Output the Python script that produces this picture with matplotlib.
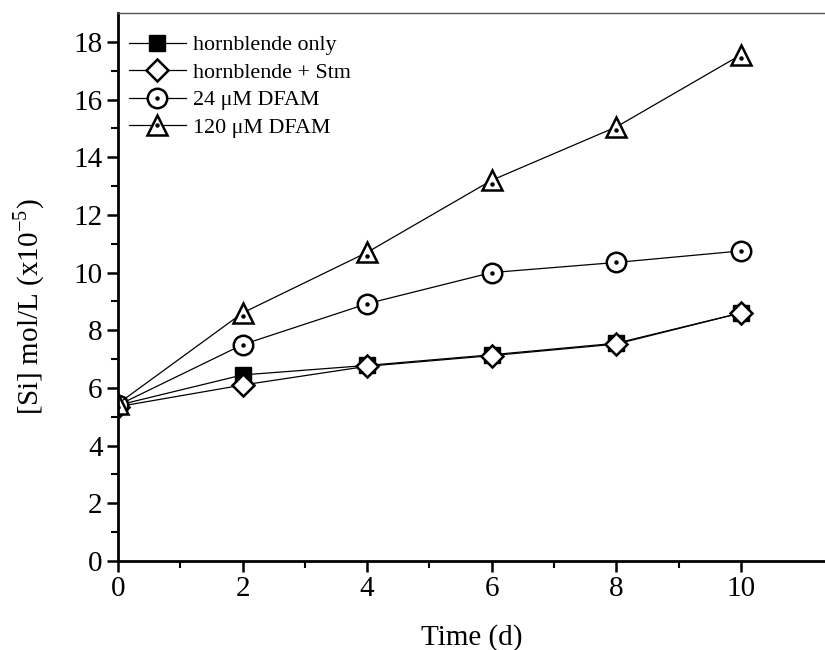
import numpy as np
import matplotlib.pyplot as plt
from matplotlib.legend_handler import HandlerTuple

plt.rcParams['font.family'] = ['Liberation Serif', 'DejaVu Serif']
plt.rcParams['mathtext.fontset'] = 'stix'

# data
t = np.array([0, 2, 4, 6, 8, 10])
hb_only = np.array([5.4, 6.45, 6.78, 7.15, 7.55, 8.6])
hb_stm = np.array([5.35, 6.1, 6.75, 7.12, 7.52, 8.6])
dfam24 = np.array([5.4, 7.5, 8.92, 10.0, 10.35, 10.75])
dfam120 = np.array([5.45, 8.6, 10.7, 13.2, 15.05, 17.55])
labels = ['hornblende only', 'hornblende + Stm', '24 \u03bcM DFAM', '120 \u03bcM DFAM']

fig = plt.figure(figsize=(8.25, 6.5), dpi=100)
ax = fig.add_axes([0.143, 0.137, 0.857, 0.843])

mew = 1.8
lw = 0.9
h1, = ax.plot(t, hb_only, '-', color='k', lw=lw, marker='s', ms=12,
              mfc='k', mec='k', mew=1)
h2, = ax.plot(t, hb_stm, '-', color='k', lw=lw, marker='D', ms=11,
              mfc='white', mec='k', mew=mew)
h3, = ax.plot(t, dfam24, '-', color='k', lw=lw, marker='o', ms=14,
              mfc='white', mec='k', mew=mew)
d3, = ax.plot(t, dfam24, ls='none', marker='o', ms=2.2, color='k')
h4, = ax.plot(t, dfam120, '-', color='k', lw=lw, marker='^', ms=15,
              mfc='white', mec='k', mew=mew)
d4, = ax.plot(t, dfam120 - 0.12, ls='none', marker='o', ms=2.2, color='k')

leg = ax.legend([h1, h2, (h3, d3), (h4, d4)], labels,
                handler_map={tuple: HandlerTuple(ndivide=1, pad=0)},
                loc='upper left', bbox_to_anchor=(0.0, 0.98),
                frameon=False, fontsize=15.8, handlelength=2.6,
                handletextpad=0.3, labelspacing=0.33, borderaxespad=0.1)

ax.set_xlim(0, 11.35)
ax.set_ylim(0, 19)
ax.set_xticks(np.arange(0, 11, 2))
ax.set_xticks(np.arange(0, 11, 1), minor=True)
ax.set_yticks(np.arange(0, 19, 2))
ax.set_yticks(np.arange(0, 19, 1), minor=True)

ax.tick_params(which='major', direction='out', length=8, width=1.8,
               labelsize=21, pad=3)
ax.tick_params(which='minor', direction='out', length=5, width=1.5)
ax.spines['left'].set_linewidth(2)
ax.spines['bottom'].set_linewidth(2)
ax.spines['top'].set_linewidth(1)
ax.spines['top'].set_color('#555555')
ax.spines['right'].set_visible(False)

ax.set_xlabel('Time (d)', fontsize=21, labelpad=16)
ax.set_ylabel('[Si] mol/L (x10$^{\\mathregular{-5}}$)', fontsize=21)
ax.yaxis.set_label_coords(-0.1, 0.465)

fig.savefig('out.png', dpi=100)
